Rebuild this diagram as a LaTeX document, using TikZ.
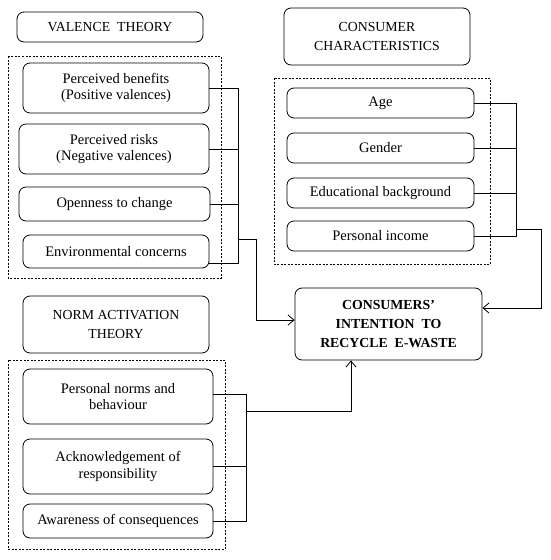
\documentclass[tikz,border=0pt]{standalone}
\usepackage{fontspec}
\setmainfont{Liberation Serif}
\usetikzlibrary{arrows.meta}
\tikzset{
	blk/.style={draw, rounded corners=7pt, align=center, inner sep=2pt, line width=0.8pt,
		font=\fontsize{14.5}{16.8}\selectfont},
	head/.style={blk, font=\fontsize{13.8}{19}\selectfont},
	link/.style={line width=0.8pt},
	flow/.style={line width=0.8pt, -{Straight Barb[length=6pt,width=10pt]}},
	grp/.style={dashed, line width=0.7pt, dash pattern=on 2pt off 1.5pt}
}
\begin{document}
\begin{tikzpicture}[x=1pt,y=-1pt]
	\useasboundingbox (0,0) rectangle (550,560);
	
	% valence theory
	\node[head, minimum width=186pt, minimum height=30pt] (vt) at (110,27) {VALENCE\ \ THEORY};
	\draw[grp] (8,56) rectangle (221,278);
	\node[blk, minimum width=186pt, minimum height=50pt] (ben) at (116,88) {Perceived benefits\\(Positive valences)};
	\node[blk, minimum width=190pt, minimum height=50pt] (risk) at (114,149) {Perceived risks\\(Negative valences)};
	\node[blk, minimum width=191pt, minimum height=34pt] (open) at (114.5,204) {Openness to change};
	\node[blk, minimum width=186pt, minimum height=33pt] (env) at (116,251.5) {Environmental concerns};
	
	% consumer characteristics
	\node[head, minimum width=186pt, minimum height=57pt] (cc) at (377,36.5) {CONSUMER\\CHARACTERISTICS};
	\draw[grp] (274,78) rectangle (490,264);
	\node[blk, minimum width=187pt, minimum height=30pt] (age) at (380.5,103) {Age};
	\node[blk, minimum width=187pt, minimum height=30pt] (gen) at (380.5,148) {Gender};
	\node[blk, minimum width=187pt, minimum height=30pt] (edu) at (380.5,193) {Educational background};
	\node[blk, minimum width=187pt, minimum height=30pt] (inc) at (380.5,236) {Personal income};
	
	% norm activation theory
	\node[head, minimum width=186pt, minimum height=57pt] (nat) at (116,324.5) {NORM ACTIVATION\\THEORY};
	\draw[grp] (8,360) rectangle (225,549);
	\node[blk, minimum width=190pt, minimum height=55pt] (norm) at (118,396.5) {Personal norms and\\behaviour};
	\node[blk, minimum width=190pt, minimum height=55pt] (ack) at (118,466.5) {Acknowledgement of\\responsibility};
	\node[blk, minimum width=190pt, minimum height=34pt] (awr) at (118,521) {Awareness of consequences};
	
	% outcome
	\node[blk, minimum width=187pt, minimum height=72pt, font=\bfseries\fontsize{13.8}{19}\selectfont] (int) at (388.5,324) {CONSUMERS'\\INTENTION\ \ TO\\RECYCLE\ \ E-WASTE};
	
	% buses
	\coordinate (vb) at (238,88); \coordinate (vj) at (238,239);
	\coordinate (cb) at (516,98); \coordinate (cj) at (516,229);
	\coordinate (nb) at (246,394); \coordinate (nj) at (246,411);
	\coordinate (up) at (351,411);
	
	\draw[link] (ben.east) -- (ben.east -| vb) -- (vb |- 0,263) -- ([yshift=-11.5pt]env.east);
	\draw[link] (risk.east) -- (risk.east -| vb);
	\draw[link] (open.east) -- (open.east -| vb);
	\draw[flow] (vj) -- ++(18,0) |- ([yshift=4pt]int.west);
	
	\draw[link] (age.east) -- (age.east -| cb) -- (cb |- inc.east) -- (inc.east);
	\draw[link] (gen.east) -- (gen.east -| cb);
	\draw[link] (edu.east) -- (edu.east -| cb);
	\draw[flow] (cj) -- ++(25,0) |- ([yshift=16pt]int.east);
	
	\draw[link] ([yshift=2.5pt]norm.east) -- ([yshift=2.5pt]norm.east -| nb) -- (nb |- awr.east) -- (awr.east);
	\draw[link] (ack.east) -- (ack.east -| nb);
	\draw[flow] (nj) -- (up) -- (up |- int.south);
\end{tikzpicture}
\end{document}
